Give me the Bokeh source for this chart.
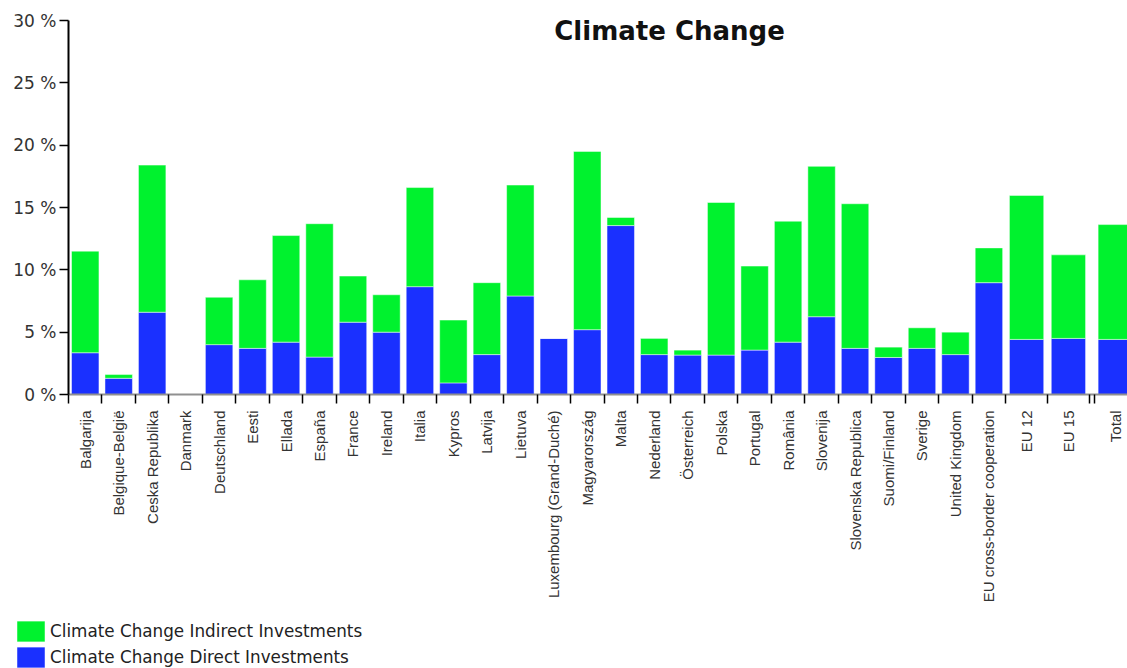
from bokeh.plotting import figure
from bokeh.models import (Range1d, FixedTicker, Legend, LegendItem, Label,
                          ColumnDataSource, CustomJSTickFormatter)
from bokeh.embed import file_html
from bokeh.resources import INLINE

categories = ["Balgarija", "Belgique-België", "Ceska Republika", "Danmark", "Deutschland",
              "Eesti", "Ellada", "España", "France", "Ireland", "Italia", "Kypros", "Latvija",
              "Lietuva", "Luxembourg (Grand-Duché)", "Magyarország", "Malta", "Nederland",
              "Österreich", "Polska", "Portugal", "România", "Slovenija", "Slovenska Republica",
              "Suomi/Finland", "Sverige", "United Kingdom", "EU cross-border cooperation",
              "EU 12", "EU 15", "Total"]

direct = [3.35, 1.3, 6.6, 0.0, 4.0, 3.7, 4.2, 3.0, 5.8, 5.0, 8.65, 0.93, 3.2, 7.9, 4.5,
          5.2, 13.55, 3.2, 3.16, 3.16, 3.56, 4.2, 6.24, 3.7, 2.97, 3.7, 3.2, 8.97,
          4.42, 4.5, 4.42]

indirect = [8.15, 0.3, 11.8, 0.0, 3.8, 5.5, 8.55, 10.7, 3.7, 3.0, 7.95, 5.04, 5.77, 8.9, 0.0,
            14.3, 0.65, 1.3, 0.4, 12.24, 6.74, 9.7, 12.06, 11.6, 0.83, 1.65, 1.8, 2.79,
            11.55, 6.7, 9.21]

y_ticks = [0, 5, 10, 15, 20, 25, 30]
series_names = ["Climate Change Indirect Investments", "Climate Change Direct Investments"]
title_text = "Climate Change"

GREEN = "#00F22E"
BLUE = "#1A30FF"
FONT = "Liberation Sans"
WIDE = "DejaVu Sans"

# slot layout: regular country slots, wider summary slots, small gap before Total
n_regular = 28
lefts, widths = [], []
pos = 0.0
for i, c in enumerate(categories):
    w = 1.0 if i < n_regular else 1.25
    if c == "Total":
        pos += 0.15
    lefts.append(pos)
    widths.append(w)
    pos += w
centers = [l + w / 2 for l, w in zip(lefts, widths)]
bar_w = [0.82 * w for w in widths]
bounds = sorted(set([round(l, 6) for l in lefts] + [round(l + w, 6) for l, w in zip(lefts, widths)]))

tops = [d + ind for d, ind in zip(direct, indirect)]
src = ColumnDataSource(dict(x=centers, w=bar_w, direct=direct, top=tops))

# page geometry (pixels): plot area from x=68 to the right edge, 30 % at y=20, 0 % at y=394
W, H = 1127, 668
AX_LEFT, Y_TOP, Y_ZERO = 68, 20, 394
px_x = 33.47
px_y = (Y_ZERO - Y_TOP) / 30.0
x_end = (W - AX_LEFT) / px_x
x0 = -AX_LEFT / px_x
y0 = -(H - Y_ZERO) / px_y
y1 = 30 + Y_TOP / px_y

p = figure(width=W, height=H, output_backend="svg", toolbar_location=None,
           x_range=Range1d(x0, x_end), y_range=Range1d(y0, y1),
           min_border=0, min_border_left=0, min_border_right=0,
           min_border_top=0, min_border_bottom=0)
p.outline_line_color = None
p.xgrid.visible = False
p.ygrid.visible = False
p.background_fill_color = "white"

bar_style = dict(line_color="white", line_width=0.8, line_alpha=0.6)
r_blue = p.vbar(x="x", width="w", bottom=0, top="direct", source=src,
                fill_color=BLUE, **bar_style)
r_green = p.vbar(x="x", width="w", bottom="direct", top="top", source=src,
                 fill_color=GREEN, **bar_style)

# y axis
ya = p.yaxis[0]
ya.fixed_location = 0
ya.bounds = (0, 30)
ya.ticker = FixedTicker(ticks=y_ticks, minor_ticks=[])
ya.formatter = CustomJSTickFormatter(code="return tick + ' %';")
ya.major_tick_out = 9
ya.major_tick_in = 0
ya.major_tick_line_color = "black"
ya.major_tick_line_width = 1.5
ya.axis_line_color = "black"
ya.axis_line_width = 2
ya.major_label_standoff = 3
ya.major_label_text_font = WIDE
ya.major_label_text_font_size = "17px"
ya.major_label_text_color = "#333333"

# x axis
xa = p.xaxis[0]
xa.fixed_location = 0
xa.bounds = (0, x_end)
xa.ticker = FixedTicker(ticks=centers, minor_ticks=bounds)
xa.formatter = CustomJSTickFormatter(args=dict(names=categories, centers=centers), code="""
    for (let i = 0; i < centers.length; i++) {
        if (Math.abs(centers[i] - tick) < 1e-6) { return names[i]; }
    }
    return "";
""")
xa.major_tick_out = 0
xa.major_tick_in = 0
xa.minor_tick_out = 9
xa.minor_tick_in = 0
xa.minor_tick_line_color = "black"
xa.minor_tick_line_width = 1.5
xa.axis_line_color = "#909090"
xa.axis_line_width = 2
xa.major_label_orientation = 1.5707963267948966
xa.major_label_standoff = 7
xa.major_label_text_font = FONT
xa.major_label_text_font_size = "15px"
xa.major_label_text_color = "#333333"

# title
title = Label(x=(669 - AX_LEFT) / px_x, y=y1 - 30 / px_y, text=title_text, text_align="center",
              text_baseline="middle", text_font=WIDE, text_font_style="bold",
              text_font_size="26px", text_color="#111111")
p.add_layout(title)

legend = Legend(items=[LegendItem(label=series_names[0], renderers=[r_green]),
                       LegendItem(label=series_names[1], renderers=[r_blue])],
                location=(13, -2), orientation="vertical",
                glyph_width=35, glyph_height=26, spacing=0, padding=0, margin=0,
                label_text_font=WIDE, label_text_font_size="16.8px", label_text_color="#222222",
                label_standoff=2, label_height=26,
                border_line_alpha=0, background_fill_alpha=0)
p.add_layout(legend)

open("out.html", "w").write(file_html(p, INLINE))
